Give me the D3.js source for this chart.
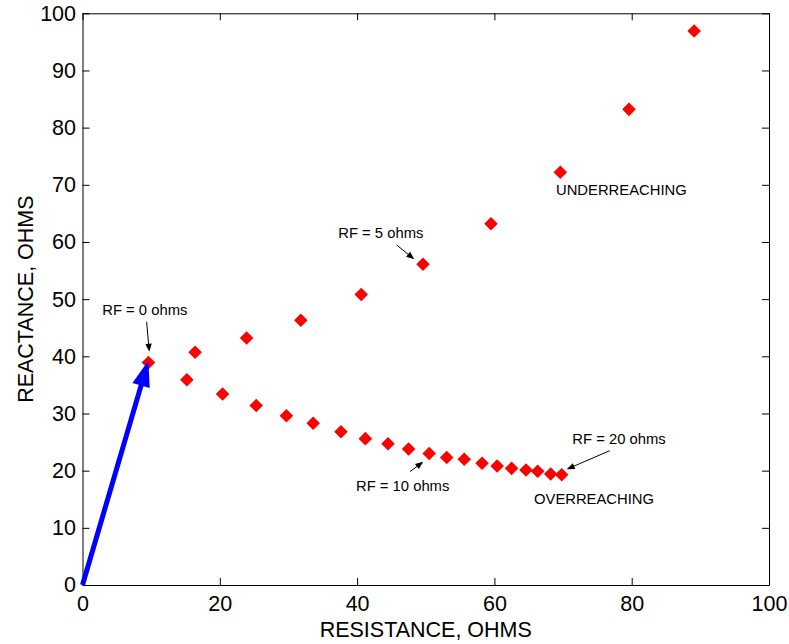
<!DOCTYPE html>
<html>
<head>
<meta charset="utf-8">
<script src="https://cdn.jsdelivr.net/npm/d3@7"></script>
<style>
  body { margin: 0; background: #fff; }
  svg { display: block; font-family: "Liberation Sans", Arial, Helvetica, sans-serif; }
  .axis path, .axis line { stroke: #000; stroke-width: 1; }
  .axis text { font-size: 21.5px; fill: #000; }
  .note { font-size: 14.8px; fill: #000; }
</style>
</head>
<body>
<div id="chart"></div>
<script>
// upper branch (underreaching), starts at RF = 0
var upperR = [9.6, 16.4, 23.9, 31.8, 40.6, 49.6, 59.5, 69.6, 79.6, 89.1];
var upperX = [38.9, 40.7, 43.2, 46.3, 50.8, 56.1, 63.2, 72.2, 83.2, 96.9];

// lower branch (overreaching)
var lowerR = [15.2, 20.4, 25.3, 29.7, 33.6, 37.65, 41.2, 44.5, 47.5, 50.5, 53.05, 55.6, 58.2, 60.4, 62.5, 64.6, 66.3, 68.2, 69.8];
var lowerX = [35.9, 33.4, 31.4, 29.6, 28.3, 26.8, 25.6, 24.7, 23.8, 23.0, 22.3, 22.0, 21.3, 20.8, 20.4, 20.1, 19.9, 19.4, 19.3];

var xTicks = [0, 20, 40, 60, 80, 100];
var yTicks = [0, 10, 20, 30, 40, 50, 60, 70, 80, 90, 100];

// text labels (data coords of text start / baseline)
var notes = [
  {text: 'RF = 0 ohms', x: 2.88, y: 47.2},
  {text: 'RF = 5 ohms', x: 37.26, y: 60.7},
  {text: 'UNDERREACHING', x: 68.97, y: 68.2},
  {text: 'RF = 10 ohms', x: 39.84, y: 16.44},
  {text: 'RF = 20 ohms', x: 71.35, y: 24.66},
  {text: 'OVERREACHING', x: 65.77, y: 14.17}
];

// small black arrows [from r, from x, to r, to x]
var pointers = [
  [9.34, 46.05, 9.73, 40.8],
  [45.77, 59.47, 48.33, 56.97],
  [47.7, 19.82, 49.64, 21.57],
  [76.8, 23.49, 70.53, 20.24]
];

var W = 789, H = 644;
var margin = {top: 13.3, right: 20, bottom: 59, left: 82.5};
var width = W - margin.left - margin.right,
    height = H - margin.top - margin.bottom;

var svg = d3.select('#chart').append('svg')
    .attr('width', W).attr('height', H);

var g = svg.append('g').attr('transform', 'translate(' + margin.left + ',' + margin.top + ')');

var x = d3.scaleLinear().domain([0, 100]).range([0, width]);
var y = d3.scaleLinear().domain([0, 100]).range([height, 0]);

// axes with inward ticks
g.append('g').attr('class', 'axis')
    .attr('transform', 'translate(0,' + height + ')')
    .call(d3.axisBottom(x).tickValues(xTicks).tickSizeInner(-7).tickSizeOuter(0).tickPadding(11));
g.append('g').attr('class', 'axis')
    .call(d3.axisLeft(y).tickValues(yTicks).tickSizeInner(-7).tickSizeOuter(0).tickPadding(6.5));
g.append('g').attr('class', 'axis')
    .call(d3.axisTop(x).tickValues(xTicks).tickSizeInner(-7).tickSizeOuter(0).tickFormat(''));
g.append('g').attr('class', 'axis')
    .attr('transform', 'translate(' + width + ',0)')
    .call(d3.axisRight(y).tickValues(yTicks).tickSizeInner(-7).tickSizeOuter(0).tickFormat(''));

// axis titles
svg.append('text')
    .attr('x', margin.left + width / 2).attr('y', 637)
    .attr('text-anchor', 'middle')
    .style('font-size', '21.5px')
    .text('RESISTANCE, OHMS');
svg.append('text')
    .attr('transform', 'translate(33,' + (margin.top + height / 2) + ') rotate(-90)')
    .attr('text-anchor', 'middle')
    .style('font-size', '21.5px')
    .text('REACTANCE, OHMS');

// markers
var diamond = d3.symbol().type(d3.symbolSquare).size(92);
var pts = [];
for (var i = 0; i < upperR.length; i++) pts.push([upperR[i], upperX[i]]);
for (var j = 0; j < lowerR.length; j++) pts.push([lowerR[j], lowerX[j]]);

g.selectAll('.pt')
  .data(pts)
  .enter().append('path')
    .attr('class', 'pt')
    .attr('d', diamond)
    .attr('fill', '#ff0000')
    .attr('transform', function(d) { return 'translate(' + x(d[0]) + ',' + y(d[1]) + ') rotate(45)'; });

// arrow helper: shaft + filled head
function arrow(x1, y1, x2, y2, color, lw, headLen, headHalf) {
  var dx = x2 - x1, dy = y2 - y1, len = Math.sqrt(dx * dx + dy * dy);
  var ux = dx / len, uy = dy / len;
  var bx = x2 - ux * headLen, by = y2 - uy * headLen;
  g.append('line')
    .attr('x1', x1).attr('y1', y1).attr('x2', bx + ux).attr('y2', by + uy)
    .attr('stroke', color).attr('stroke-width', lw);
  g.append('path')
    .attr('d', 'M' + x2 + ',' + y2 +
               'L' + (bx - uy * headHalf) + ',' + (by + ux * headHalf) +
               'L' + (bx + uy * headHalf) + ',' + (by - ux * headHalf) + 'Z')
    .attr('fill', color);
}

// blue vector from origin to RF = 0 point
arrow(x(0), y(0), x(upperR[0]), y(upperX[0]) - 2, '#0000ff', 5, 26, 9);

pointers.forEach(function(p) {
  arrow(x(p[0]), y(p[1]), x(p[2]), y(p[3]), '#000', 1, 8, 3.2);
});

g.selectAll('.note')
  .data(notes)
  .enter().append('text')
    .attr('class', 'note')
    .attr('x', function(d) { return x(d.x); })
    .attr('y', function(d) { return y(d.y); })
    .text(function(d) { return d.text; });
</script>
</body>
</html>
